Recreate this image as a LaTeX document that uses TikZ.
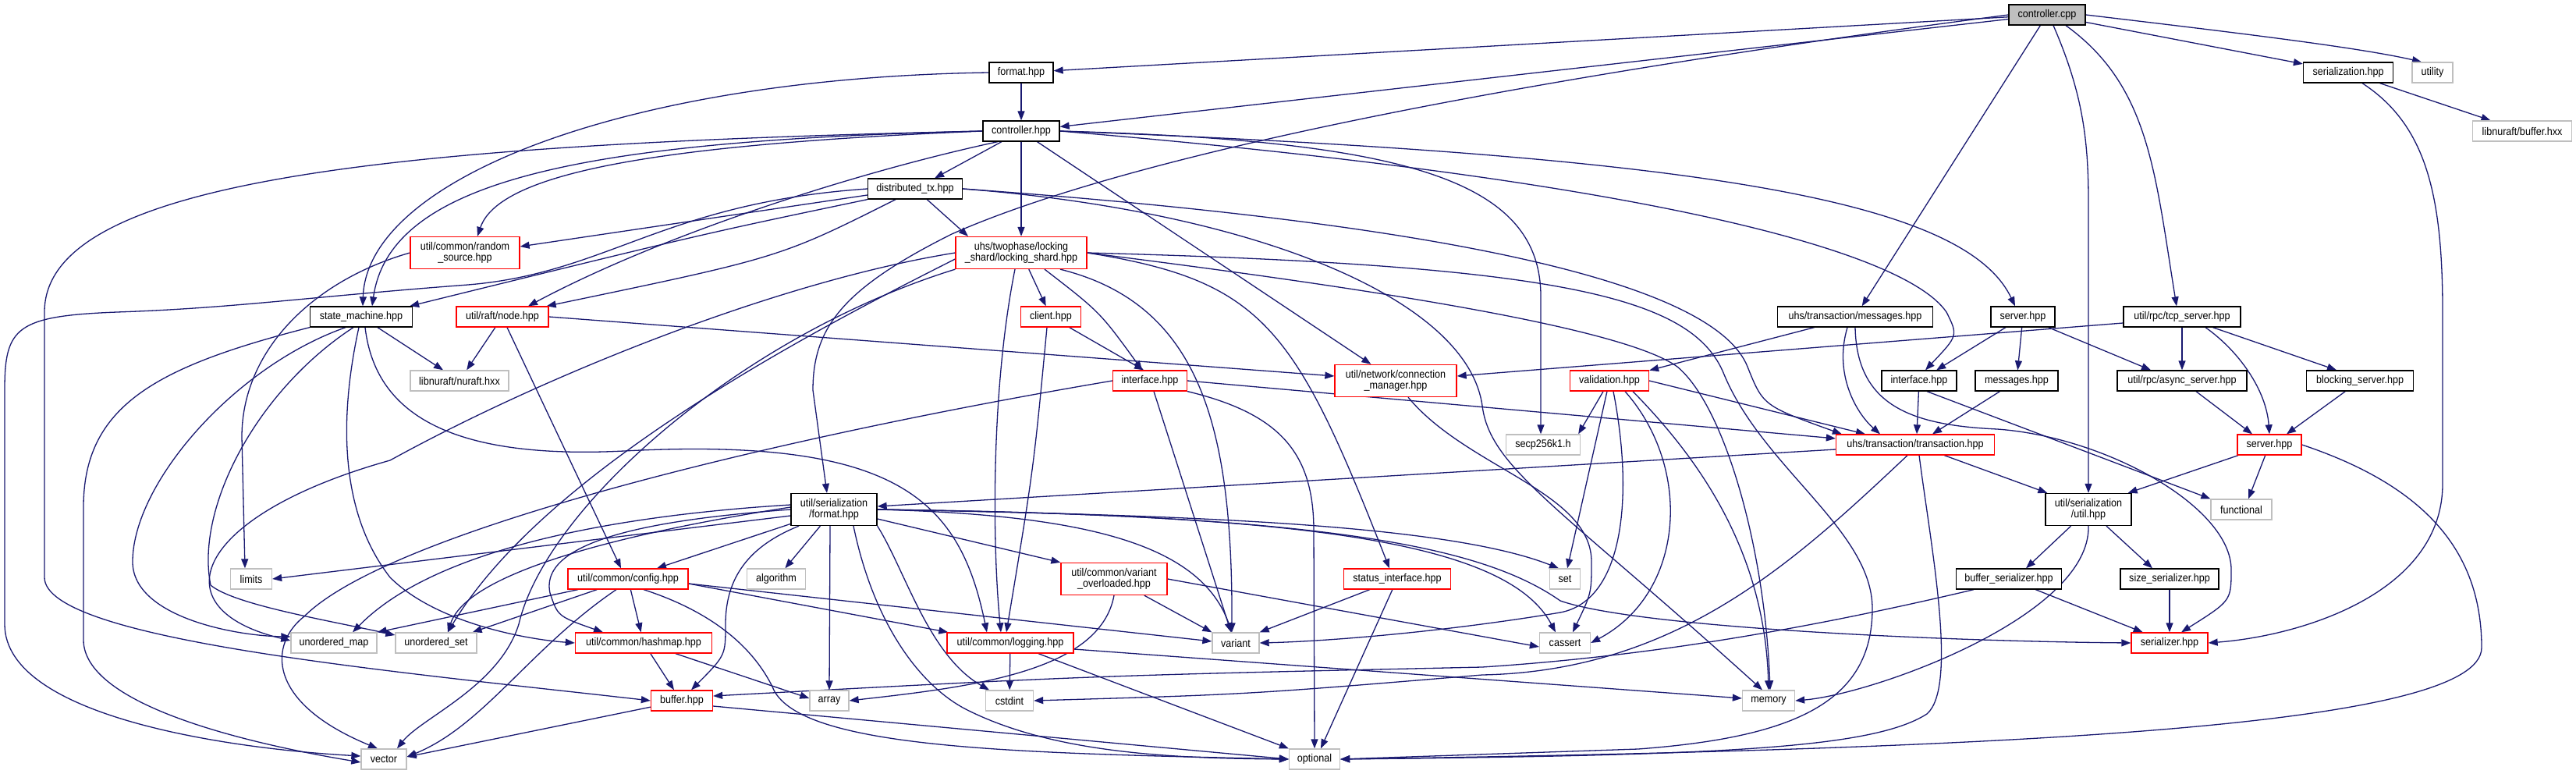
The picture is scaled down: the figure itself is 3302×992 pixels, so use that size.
\documentclass[tikz,border=0pt]{standalone}
\usepackage{fontspec}
\setmainfont{Liberation Sans}[FakeStretch=0.9]
\usepackage{tikz}
\usetikzlibrary{arrows.meta,backgrounds}

\definecolor{edgeblue}{RGB}{25,25,112}
\definecolor{sysgray}{RGB}{191,191,191}
\newcommand{\dxfont}{\fontsize{14pt}{14.5pt}\selectfont}

\begin{document}
\begin{tikzpicture}[x=1pt, y=-1pt, font=\dxfont]
    \tikzset{
      file/.style = {rectangle, draw=black, fill=white, line width=1.3pt, inner sep=0pt, minimum height=26pt, text centered},
      part/.style = {file, draw=red},
      sys/.style = {file, draw=sysgray},
      root/.style = {file, fill=sysgray},
      two/.style = {minimum height=41pt, align=center},
      arrow/.style = {draw=edgeblue, line width=1.3pt, ->, >={Triangle[length=12pt,width=9pt]}}
    }
    \useasboundingbox (0,0) rectangle (3302,992);

    \node (ctrl_cpp) [root, minimum width=98pt] at (2624,19) {controller.cpp};
    \node (fmt_hpp) [file, minimum width=82pt] at (1309,93) {format.hpp};
    \node (ser_hpp) [file, minimum width=115pt] at (3010,93) {serialization.hpp};
    \node (utility) [sys, minimum width=52pt] at (3118,93) {utility};
    \node (ctrl_hpp) [file, minimum width=98pt] at (1309,168) {controller.hpp};
    \node (nuraft_buf) [sys, minimum width=127pt] at (3233,168) {libnuraft/buffer.hxx};
    \node (dist_tx) [file, minimum width=121pt] at (1173,242) {distributed\_tx.hpp};
    \node (rand_src) [part, two, minimum width=140pt] at (596,324) {util/common/random\\\_source.hpp};
    \node (lock_shard) [part, two, minimum width=168pt] at (1309,324) {uhs/twophase/locking\\\_shard/locking\_shard.hpp};
    \node (state_mach) [file, minimum width=131pt] at (463,406) {state\_machine.hpp};
    \node (raft_node) [part, minimum width=118pt] at (644,406) {util/raft/node.hpp};
    \node (client) [part, minimum width=77pt] at (1347,406) {client.hpp};
    \node (tx_msgs) [file, minimum width=199pt] at (2378,406) {uhs/transaction/messages.hpp};
    \node (coord_srv) [file, minimum width=82pt] at (2593,406) {server.hpp};
    \node (tcp_srv) [file, minimum width=150pt] at (2797,406) {util/rpc/tcp\_server.hpp};
    \node (nuraft) [sys, minimum width=126pt] at (589,488) {libnuraft/nuraft.hxx};
    \node (ls_iface) [part, minimum width=95pt] at (1474,488) {interface.hpp};
    \node (conn_mgr) [part, two, minimum width=156pt] at (1789,488) {util/network/connection\\\_manager.hpp};
    \node (validation) [part, minimum width=101pt] at (2063,488) {validation.hpp};
    \node (coord_iface) [file, minimum width=96pt] at (2460,488) {interface.hpp};
    \node (coord_msgs) [file, minimum width=106pt] at (2585,488) {messages.hpp};
    \node (async_srv) [file, minimum width=166pt] at (2797,488) {util/rpc/async\_server.hpp};
    \node (blocking_srv) [file, minimum width=137pt] at (3025,488) {blocking\_server.hpp};
    \node (secp) [sys, minimum width=95pt] at (1978,570) {secp256k1.h};
    \node (tx_hpp) [part, minimum width=203pt] at (2455,570) {uhs/transaction/transaction.hpp};
    \node (rpc_srv) [part, minimum width=82pt] at (2909,570) {server.hpp};
    \node (ser_format) [file, two, minimum width=110pt] at (1069,653) {util/serialization\\/format.hpp};
    \node (ser_util) [file, two, minimum width=110pt] at (2677,653) {util/serialization\\/util.hpp};
    \node (functional) [sys, minimum width=78pt] at (2873,653) {functional};
    \node (limits) [sys, minimum width=53pt] at (322,742) {limits};
    \node (config) [part, minimum width=154pt] at (805,742) {util/common/config.hpp};
    \node (algorithm) [sys, minimum width=75pt] at (995,742) {algorithm};
    \node (var_ovl) [part, two, minimum width=136pt] at (1428,742) {util/common/variant\\\_overloaded.hpp};
    \node (status_iface) [part, minimum width=137pt] at (1791,742) {status\_interface.hpp};
    \node (set) [sys, minimum width=39pt] at (2006,742) {set};
    \node (buf_ser) [file, minimum width=135pt] at (2575,742) {buffer\_serializer.hpp};
    \node (size_ser) [file, minimum width=126pt] at (2781,742) {size\_serializer.hpp};
    \node (umap) [sys, minimum width=110pt] at (428,824) {unordered\_map};
    \node (uset) [sys, minimum width=104pt] at (559,824) {unordered\_set};
    \node (hashmap) [part, minimum width=175pt] at (825,824) {util/common/hashmap.hpp};
    \node (logging) [part, minimum width=162pt] at (1295,824) {util/common/logging.hpp};
    \node (variant) [sys, minimum width=60pt] at (1584,824) {variant};
    \node (cassert) [sys, minimum width=65pt] at (2006,824) {cassert};
    \node (serializer) [part, minimum width=98pt] at (2781,824) {serializer.hpp};
    \node (buffer) [part, minimum width=79pt] at (874,898) {buffer.hpp};
    \node (array) [sys, minimum width=50pt] at (1063,898) {array};
    \node (cstdint) [sys, minimum width=61pt] at (1294,898) {cstdint};
    \node (memory) [sys, minimum width=67pt] at (2267,898) {memory};
    \node (vector) [sys, minimum width=58pt] at (492,973) {vector};
    \node (optional) [sys, minimum width=65pt] at (1685,973) {optional};

    \begin{scope}[on background layer]
    \draw [arrow] (ctrl_cpp) -- (fmt_hpp);
    \draw [arrow] (ctrl_cpp) -- (ctrl_hpp);
    \draw [arrow] (ctrl_cpp.west) .. controls (1800,120) and (1400,220) .. (1220,300) .. controls (1080,370) and (1042,420) .. (1042,500) -- ([xshift=-9pt]ser_format.north);
    \draw [arrow] (ctrl_cpp) -- (tx_msgs);
    \draw [arrow] ([xshift=8pt]ctrl_cpp.south) .. controls (2670,120) and (2677,180) .. (2677,260) -- (ser_util.north);
    \draw [arrow] ([xshift=24pt]ctrl_cpp.south) .. controls (2755,110) and (2762,220) .. ([xshift=-7pt]tcp_srv.north);
    \draw [arrow] (ctrl_cpp) -- (ser_hpp);
    \draw [arrow] (ctrl_cpp.east) .. controls (2850,40) and (3020,60) .. ([xshift=-14pt]utility.north);
    \draw [arrow] (fmt_hpp) -- (ctrl_hpp);
    \draw [arrow] (fmt_hpp.west) .. controls (800,100) and (470,230) .. ([xshift=2pt]state_mach.north);
    \draw [arrow] (ser_hpp) -- (nuraft_buf);
    \draw [arrow] ([xshift=18pt]ser_hpp.south) .. controls (3110,160) and (3131,250) .. (3131,400) -- (3131,620) .. controls (3131,760) and (2950,815) .. (serializer.east);
    \draw [arrow] (ctrl_hpp) -- (dist_tx);
    \draw [arrow] (ctrl_hpp) -- (lock_shard);
    \draw [arrow] (ctrl_hpp.west) .. controls (850,185) and (640,220) .. ([xshift=16pt]rand_src.north);
    \draw [arrow] (ctrl_hpp.west) .. controls (750,180) and (500,230) .. ([xshift=14pt]state_mach.north);
    \draw [arrow] ([xshift=-30pt]ctrl_hpp.south) .. controls (1100,220) and (850,300) .. ([xshift=33pt]raft_node.north);
    \draw [arrow] (ctrl_hpp.west) .. controls (500,185) and (57,230) .. (57,400) -- (57,740) .. controls (57,820) and (500,860) .. (buffer.west);
    \draw [arrow] (ctrl_hpp) -- (conn_mgr);
    \draw [arrow] (ctrl_hpp.east) .. controls (1800,180) and (1975,230) .. (1975,380) -- ([xshift=-3pt]secp.north);
    \draw [arrow] (ctrl_hpp.east) .. controls (2200,200) and (2520,260) .. ([xshift=-10pt]coord_srv.north);
    \draw [arrow] (ctrl_hpp.east) .. controls (2100,230) and (2440,320) .. (2495,400) .. controls (2510,430) .. ([xshift=8pt]coord_iface.north);
    \draw [arrow] ([yshift=-8pt]dist_tx.west) -- ([yshift=8pt]rand_src.east);
    \draw [arrow] (dist_tx) -- ([xshift=-68pt]lock_shard.north);
    \draw [arrow] (dist_tx.south west) .. controls (900,300) .. ([xshift=-4pt]state_mach.north east);
    \draw [arrow] ([xshift=-25pt]dist_tx.south) .. controls (1000,330) .. ([xshift=-3pt]raft_node.north east);
    \draw [arrow] (dist_tx.west) .. controls (850,260) and (780,350) .. (600,365) .. controls (400,380) and (300,395) .. (150,400) .. controls (20,405) and (6,420) .. (6,500) -- (6,800) .. controls (6,920) and (300,960) .. ([yshift=4pt]vector.west);
    \draw [arrow] (dist_tx.east) .. controls (1900,290) and (2200,370) .. (2240,470) .. controls (2260,520) .. ([xshift=8pt]tx_hpp.north west);
    \draw [arrow] (dist_tx.east) .. controls (1600,270) and (1880,380) .. (1900,520) .. controls (1910,600) and (2000,650) .. ([xshift=-8pt]memory.north);
    \draw [arrow] (rand_src.west) .. controls (400,360) and (310,450) .. (310,560) -- ([xshift=-8pt]limits.north);
    \draw [arrow] (lock_shard) -- (client);
    \draw [arrow] ([xshift=30pt]lock_shard.south) .. controls (1410,400) .. ([xshift=-10pt]ls_iface.north);
    \draw [arrow] ([xshift=-8pt]lock_shard.south) .. controls (1270,500) and (1272,700) .. ([xshift=-12pt]logging.north);
    \draw [arrow] ([xshift=50pt]lock_shard.south) .. controls (1540,390) and (1580,550) .. ([xshift=-5pt]variant.north);
    \draw [arrow] (lock_shard.east) .. controls (1620,360) and (1660,420) .. ([xshift=-10pt]status_iface.north);
    \draw [arrow] (lock_shard.east) .. controls (1760,370) and (2080,420) .. (2150,470) .. controls (2210,520) and (2262,700) .. ([xshift=2pt]memory.north);
    \draw [arrow] (lock_shard.east) .. controls (2000,340) and (2170,380) .. (2210,480) .. controls (2260,600) and (2400,680) .. (2400,780) .. controls (2400,900) and (2300,945) .. (2100,960) -- (optional.east);
    \draw [arrow] (lock_shard.west) .. controls (1000,360) and (700,480) .. (500,590) .. controls (250,660) and (200,780) .. ([yshift=3pt]umap.west);
    \draw [arrow] ([yshift=-8pt]lock_shard.west) .. controls (1050,420) and (700,600) .. ([xshift=15pt]uset.north);
    \draw [arrow] (lock_shard.south west) .. controls (950,430) and (700,650) .. (665,800) .. controls (640,880) and (540,920) .. ([xshift=17pt]vector.north);
    \draw [arrow] (state_mach) -- (nuraft);
    \draw [arrow] (state_mach.south west) .. controls (200,470) and (107,520) .. (107,650) -- (107,820) .. controls (107,900) and (300,950) .. ([yshift=-4pt]vector.west);
    \draw [arrow] ([xshift=-20pt]state_mach.south) .. controls (300,470) and (170,620) .. (170,720) .. controls (170,790) and (300,815) .. ([yshift=8pt]umap.west);
    \draw [arrow] ([xshift=-10pt]state_mach.south) .. controls (330,500) and (250,650) .. (270,750) .. controls (300,775) and (420,795) .. ([yshift=10pt]uset.west);
    \draw [arrow] ([xshift=-3pt]state_mach.south) .. controls (438,520) and (430,650) .. (500,740) .. controls (560,800) and (680,820) .. (hashmap.west);
    \draw [arrow] ([xshift=5pt]state_mach.south) .. controls (480,520) and (560,590) .. (800,578) .. controls (1150,560) and (1230,640) .. ([xshift=-30pt]logging.north);
    \draw [arrow] (raft_node) -- (nuraft);
    \draw [arrow] ([xshift=6pt]raft_node.south) -- ([xshift=-9pt]config.north);
    \draw [arrow] (raft_node.east) -- ([yshift=6pt]conn_mgr.west);
    \draw [arrow] (client) -- ([xshift=-8pt]ls_iface.north);
    \draw [arrow] ([xshift=-5pt]client.south) .. controls (1325,600) .. ([xshift=-5pt]logging.north);
    \draw [arrow] (ls_iface.east) -- ([yshift=8pt]tx_hpp.west);
    \draw [arrow] (ls_iface.west) .. controls (1000,560) and (500,680) .. (390,790) .. controls (345,825) and (340,900) .. ([xshift=-8pt]vector.north);
    \draw [arrow] ([xshift=5pt]ls_iface.south) -- ([xshift=-6pt]variant.north);
    \draw [arrow] (ls_iface.south east) .. controls (1640,530) and (1684,580) .. (1684,680) -- (optional.north);
    \draw [arrow] ([xshift=16pt]conn_mgr.south) .. controls (1880,600) and (2040,630) .. (2040,720) .. controls (2040,760) .. ([xshift=10pt]cassert.north);
    \draw [arrow] (validation) -- ([xshift=-3pt]secp.north east);
    \draw [arrow] (validation) -- (set);
    \draw [arrow] ([xshift=5pt]validation.south) .. controls (2095,640) and (2080,770) .. (2000,785) .. controls (1850,810) and (1700,822) .. (variant.east);
    \draw [arrow] ([xshift=20pt]validation.south) .. controls (2170,600) and (2160,760) .. (cassert.east);
    \draw [arrow] ([xshift=30pt]validation.south) .. controls (2170,580) and (2262,700) .. (memory.north);
    \draw [arrow] (validation.east) -- ([xshift=-64pt]tx_hpp.north);
    \draw [arrow] (tx_msgs) -- (validation);
    \draw [arrow] ([xshift=-10pt]tx_msgs.south) .. controls (2350,480) and (2380,530) .. ([xshift=-45pt]tx_hpp.north);
    \draw [arrow] (tx_msgs.south) .. controls (2380,520) and (2450,545) .. (2560,550) .. controls (2700,560) and (2860,650) .. (2860,730) .. controls (2860,770) .. ([xshift=15pt]serializer.north);
    \draw [arrow] (coord_srv) -- (coord_iface);
    \draw [arrow] (coord_srv) -- (coord_msgs);
    \draw [arrow] (coord_srv) -- ([xshift=-40pt]async_srv.north);
    \draw [arrow] ([yshift=-8pt]tcp_srv.west) -- ([yshift=6pt]conn_mgr.east);
    \draw [arrow] (tcp_srv) -- (async_srv);
    \draw [arrow] (tcp_srv) -- ([xshift=-30pt]blocking_srv.north);
    \draw [arrow] ([xshift=30pt]tcp_srv.south) .. controls (2870,450) and (2905,500) .. (rpc_srv.north);
    \draw [arrow] (coord_iface) -- ([xshift=2pt]tx_hpp.north);
    \draw [arrow] ([xshift=10pt]coord_iface.south) -- (functional.north west);
    \draw [arrow] (coord_msgs) -- ([xshift=22pt]tx_hpp.north);
    \draw [arrow] (async_srv) -- ([xshift=-22pt]rpc_srv.north);
    \draw [arrow] (blocking_srv) -- ([xshift=22pt]rpc_srv.north);
    \draw [arrow] (rpc_srv) -- ([xshift=-5pt]ser_util.north east);
    \draw [arrow] (rpc_srv) -- ([xshift=9pt]functional.north);
    \draw [arrow] (rpc_srv.east) .. controls (3100,620) and (3181,700) .. (3181,830) .. controls (3181,930) and (2600,960) .. (optional.east);
    \draw [arrow] ([yshift=-6pt]tx_hpp.west) -- ([yshift=4pt]ser_format.east);
    \draw [arrow] (tx_hpp) -- ([xshift=3pt]ser_util.north west);
    \draw [arrow] ([xshift=5pt]tx_hpp.south) .. controls (2475,700) and (2510,880) .. (2470,915) .. controls (2400,960) and (2200,968) .. (optional.east);
    \draw [arrow] ([xshift=-10pt]tx_hpp.south) .. controls (2300,720) and (2150,860) .. (1900,865) .. controls (1600,890) .. (cstdint.east);
    \draw [arrow] (ser_util) -- ([xshift=22pt]buf_ser.north);
    \draw [arrow] (ser_util) -- ([xshift=-22pt]size_ser.north);
    \draw [arrow] (ser_util.south) .. controls (2680,790) and (2400,890) .. (memory.east);
    \draw [arrow] (buf_ser) -- (serializer);
    \draw [arrow] ([xshift=-45pt]buf_ser.south) .. controls (2300,810) and (2100,842) .. (1900,855) .. controls (1400,866) .. ([yshift=6pt]buffer.east);
    \draw [arrow] (size_ser) -- (serializer);
    \draw [arrow] ([yshift=-8pt]ser_format.west) -- (limits.east);
    \draw [arrow] ([yshift=6pt]ser_format.west) .. controls (800,660) and (560,700) .. ([xshift=24pt]umap.north);
    \draw [arrow] ([yshift=3pt]ser_format.west) .. controls (820,680) and (600,730) .. ([xshift=15pt]uset.north);
    \draw [arrow] (ser_format.west) .. controls (850,665) and (690,690) .. (705,760) .. controls (715,790) .. ([xshift=-52pt]hashmap.north);
    \draw [arrow] (ser_format) -- ([xshift=37pt]config.north);
    \draw [arrow] (ser_format) -- (algorithm);
    \draw [arrow] ([xshift=-5pt]ser_format.south) -- (array.north);
    \draw [arrow] ([xshift=-45pt]ser_format.south) .. controls (960,700) and (930,740) .. (930,800) .. controls (930,840) .. ([xshift=12pt]buffer.north);
    \draw [arrow] (ser_format.south east) .. controls (1160,730) and (1190,840) .. ([xshift=-26pt]cstdint.north);
    \draw [arrow] ([xshift=25pt]ser_format.south) .. controls (1120,800) and (1180,880) .. (1240,910) .. controls (1350,965) and (1500,972) .. (optional.west);
    \draw [arrow] ([yshift=-12pt]ser_format.east) -- (var_ovl.north west);
    \draw [arrow] (ser_format.east) .. controls (1400,660) and (1540,700) .. ([xshift=-5pt]variant.north);
    \draw [arrow] (ser_format.east) .. controls (1500,660) and (1850,670) .. ([xshift=-8pt]set.north);
    \draw [arrow] (ser_format.east) .. controls (1650,660) and (1930,690) .. ([xshift=-12pt]cassert.north);
    \draw [arrow] (ser_format.east) .. controls (1700,660) and (1900,700) .. (2000,770) .. controls (2100,805) and (2500,822) .. (serializer.west);
    \draw [arrow] (config) -- (umap.north east);
    \draw [arrow] (config) -- ([xshift=-6pt]uset.north east);
    \draw [arrow] ([xshift=-15pt]config.south) .. controls (680,830) and (620,930) .. ([yshift=3pt]vector.east);
    \draw [arrow] (config) -- (hashmap);
    \draw [arrow] ([yshift=-6pt]config.east) -- ([xshift=2pt]logging.north west);
    \draw [arrow] ([yshift=-6pt]config.east) -- ([yshift=2pt]variant.west);
    \draw [arrow] ([xshift=20pt]config.south) .. controls (900,780) and (960,820) .. (990,880) .. controls (1020,960) and (1300,965) .. (optional.west);
    \draw [arrow] (hashmap) -- ([xshift=-10pt]buffer.north);
    \draw [arrow] (hashmap) -- ([yshift=3pt]array.west);
    \draw [arrow] (buffer) -- ([yshift=3pt]vector.east);
    \draw [arrow] ([yshift=-7pt]buffer.east) -- (optional.west);
    \draw [arrow] (logging) -- (cstdint);
    \draw [arrow] (logging) -- (optional.north west);
    \draw [arrow] ([yshift=-8pt]logging.east) -- ([yshift=3pt]memory.west);
    \draw [arrow] (var_ovl) -- (variant.north west);
    \draw [arrow] (var_ovl.east) -- ([yshift=-5pt]cassert.west);
    \draw [arrow] (var_ovl.south) .. controls (1410,860) and (1250,880) .. (array.east);
    \draw [arrow] (status_iface) -- (variant.north east);
    \draw [arrow] (status_iface) -- ([xshift=8pt]optional.north);
    \end{scope}
\end{tikzpicture}
\end{document}
